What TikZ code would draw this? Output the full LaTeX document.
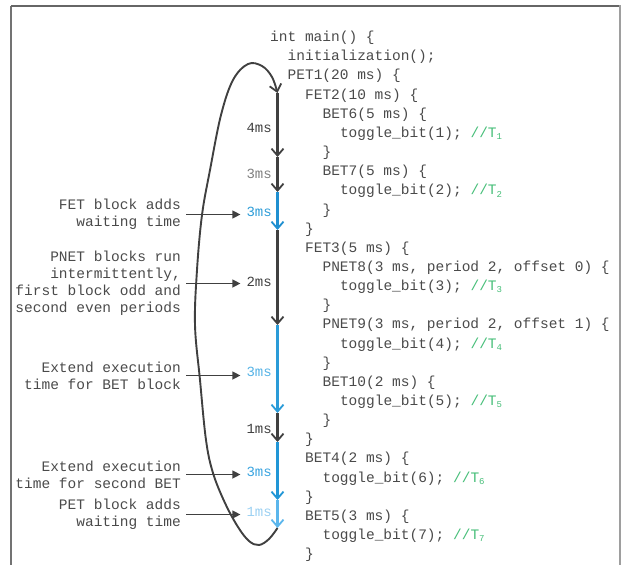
\documentclass[tikz,border=0pt]{standalone}
\usepackage{fontspec}
\setmonofont{Liberation Mono}
\usetikzlibrary{arrows.meta}
\definecolor{codegray}{HTML}{4A4A4A}
\definecolor{anngray}{HTML}{4A4A4A}
\definecolor{linedark}{HTML}{404040}
\definecolor{cmtgreen}{HTML}{46BE78}
\definecolor{blueA}{HTML}{1F8FD0}
\definecolor{blueB}{HTML}{2A9BD8}
\definecolor{blueC}{HTML}{2196D6}
\definecolor{blueD}{HTML}{5BB6EC}
\definecolor{labgray}{HTML}{808080}
\definecolor{labblueA}{HTML}{2E9DD8}
\definecolor{labblueB}{HTML}{56B3E6}
\definecolor{labblueC}{HTML}{3AA4E0}
\definecolor{labblueD}{HTML}{9BD0F2}
\newcommand\Tsub[1]{T\raisebox{-0.3ex}{\fontsize{9}{9}\selectfont #1}}
\newcommand\cmt[1]{{\color{cmtgreen}//\Tsub{#1}}}
\begin{document}
\begin{tikzpicture}[x=1pt,y=-1pt,
  code/.style={anchor=mid west, inner sep=0pt, font=\ttfamily\fontsize{14.5}{17}\selectfont, text=codegray},
  lab/.style={anchor=mid east, inner sep=0pt, font=\ttfamily\fontsize{14}{17}\selectfont},
  ann/.style={anchor=east, inner sep=0pt, align=right, font=\ttfamily\fontsize{14.5}{17}\selectfont, text=anngray},
  seg/.style={line width=2.1pt, -{Straight Barb[length=7pt,width=12pt,line width=1.8pt]}},
  annarrow/.style={draw=linedark, line width=1.3pt, -{Triangle[length=8pt,width=8pt]}},
  loopline/.style={draw=linedark, line width=1.9pt, -{Straight Barb[length=7pt,width=12pt,line width=1.8pt]}}
]
\useasboundingbox (0,0) rectangle (627,565);
% frame
\draw[draw=black!55, line width=1.4pt] (11,6) -- (11,565);
\draw[draw=black!60, line width=1.4pt] (11,6) -- (620,6);
\draw[draw=black!38, line width=2.6pt] (620,5.4) -- (620,565);

% code lines
\node[code] (c1)  at ({270+17.46*0},{39.5+19.15*0})  {int main() \{};
\node[code] (c2)  at ({270+17.46*1},{39.5+19.15*1})  {initialization();};
\node[code] (c3)  at ({270+17.46*1},{39.5+19.15*2})  {PET1(20 ms) \{};
\node[code] (c4)  at ({270+17.46*2},{39.5+19.15*3})  {FET2(10 ms) \{};
\node[code] (c5)  at ({270+17.46*3},{39.5+19.15*4})  {BET6(5 ms) \{};
\node[code] (c6)  at ({270+17.46*4},{39.5+19.15*5})  {toggle\_bit(1); \cmt{1}};
\node[code] (c7)  at ({270+17.46*3},{39.5+19.15*6})  {\}};
\node[code] (c8)  at ({270+17.46*3},{39.5+19.15*7})  {BET7(5 ms) \{};
\node[code] (c9)  at ({270+17.46*4},{39.5+19.15*8})  {toggle\_bit(2); \cmt{2}};
\node[code] (c10) at ({270+17.46*3},{39.5+19.15*9})  {\}};
\node[code] (c11) at ({270+17.46*2},{39.5+19.15*10}) {\}};
\node[code] (c12) at ({270+17.46*2},{39.5+19.15*11}) {FET3(5 ms) \{};
\node[code] (c13) at ({270+17.46*3},{39.5+19.15*12}) {PNET8(3 ms, period 2, offset 0) \{};
\node[code] (c14) at ({270+17.46*4},{39.5+19.15*13}) {toggle\_bit(3); \cmt{3}};
\node[code] (c15) at ({270+17.46*3},{39.5+19.15*14}) {\}};
\node[code] (c16) at ({270+17.46*3},{39.5+19.15*15}) {PNET9(3 ms, period 2, offset 1) \{};
\node[code] (c17) at ({270+17.46*4},{39.5+19.15*16}) {toggle\_bit(4); \cmt{4}};
\node[code] (c18) at ({270+17.46*3},{39.5+19.15*17}) {\}};
\node[code] (c19) at ({270+17.46*3},{39.5+19.15*18}) {BET10(2 ms) \{};
\node[code] (c20) at ({270+17.46*4},{39.5+19.15*19}) {toggle\_bit(5); \cmt{5}};
\node[code] (c21) at ({270+17.46*3},{39.5+19.15*20}) {\}};
\node[code] (c22) at ({270+17.46*2},{39.5+19.15*21}) {\}};
\node[code] (c23) at ({270+17.46*2},{39.5+19.15*22}) {BET4(2 ms) \{};
\node[code] (c24) at ({270+17.46*3},{39.5+19.15*23}) {toggle\_bit(6); \cmt{6}};
\node[code] (c25) at ({270+17.46*2},{39.5+19.15*24}) {\}};
\node[code] (c26) at ({270+17.46*2},{39.5+19.15*25}) {BET5(3 ms) \{};
\node[code] (c27) at ({270+17.46*3},{39.5+19.15*26}) {toggle\_bit(7); \cmt{7}};
\node[code] (c28) at ({270+17.46*2},{39.5+19.15*27}) {\}};

% timeline points
\coordinate (t0) at (277.5,93);
\coordinate (t1) at (277.5,157);
\coordinate (t2) at (277.5,192);
\coordinate (t3) at (277.5,230);
\coordinate (t4) at (277.5,325);
\coordinate (t5) at (277.5,413);
\coordinate (t6) at (277.5,442);
\coordinate (t7) at (277.5,500);
\coordinate (t8) at (277.5,528);

\draw[seg, draw=linedark] (t0) -- (t1);
\draw[seg, draw=linedark] (t1) -- (t2);
\draw[seg, draw=blueA] (t2) -- (t3);
\draw[seg, draw=linedark] (t3) -- (t4);
\draw[seg, draw=blueB] (t4) -- (t5);
\draw[seg, draw=linedark] (t5) -- (t6);
\draw[seg, draw=blueC] (t6) -- (t7);
\draw[seg, draw=blueD] (t7) -- (t8);

% timeline labels
\node[lab, text=linedark] (l1) at (272,130) {4ms};
\node[lab, text=labgray]  (l2) at (272,176) {3ms};
\node[lab, text=labblueA] (l3) at (272,214) {3ms};
\node[lab, text=linedark] (l4) at (272,284) {2ms};
\node[lab, text=labblueB] (l5) at (272,374) {3ms};
\node[lab, text=linedark] (l6) at (272,431) {1ms};
\node[lab, text=labblueC] (l7) at (272,474) {3ms};
\node[lab, text=labblueD] (l8) at (272,514) {1ms};

% loop curve
\draw[loopline] plot[smooth, tension=0.6] coordinates {
  (t8) (269,539) (259,545) (249,541) (238,527) (225,503) (213,473)
  (206,440) (200,380) (195,325) (197,270) (202,215) (210,170)
  (221,115) (233,80) (248,64) (262,66) (272,77) (t0)};

% annotations
\node[ann] (a1) at (181,214.5) {FET block adds\\waiting time};
\node[ann] (a2) at (181,283.5) {PNET blocks run\\intermittently,\\first block odd and\\second even periods};
\node[ann] (a3) at (181,375.5) {Extend execution\\time for BET block};
\node[ann] (a4) at (181,474.5) {Extend execution\\time for second BET};
\node[ann] (a5) at (181,514.5) {PET block adds\\waiting time};

\draw[annarrow] ([xshift=5pt]a1.east) -- ([xshift=-6pt]l3.west |- a1.east);
\draw[annarrow] ([xshift=5pt]a2.east) -- ([xshift=-6pt]l4.west |- a2.east);
\draw[annarrow] ([xshift=5pt]a3.east) -- ([xshift=-6pt]l5.west |- a3.east);
\draw[annarrow] ([xshift=5pt]a4.east) -- ([xshift=-6pt]l7.west |- a4.east);
\draw[annarrow] ([xshift=5pt]a5.east) -- ([xshift=-6pt]l8.west |- a5.east);
\end{tikzpicture}
\end{document}
